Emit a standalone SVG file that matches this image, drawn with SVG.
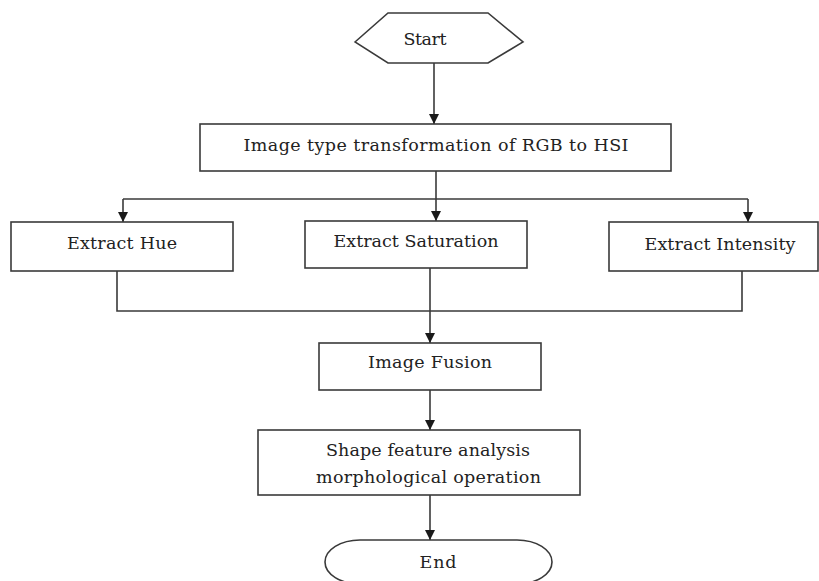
<svg xmlns="http://www.w3.org/2000/svg" width="819" height="581" viewBox="0 0 819 581">
<style>
.shape{fill:#fff;stroke:#3a3a3a;stroke-width:1.6}
.lbl{font-family:"DejaVu Serif","Liberation Serif",serif;font-size:17.5px;fill:#222;text-anchor:middle}
.con{fill:none;stroke:#3a3a3a;stroke-width:1.6}
</style>
<defs>
<marker id="arr" viewBox="0 0 10 10" refX="10" refY="5" markerWidth="10" markerHeight="10" markerUnits="userSpaceOnUse" orient="auto">
<path d="M0,0 L10,5 L0,10 Z" fill="#1a1a1a"/>
</marker>
</defs>
<rect width="819" height="581" fill="#fff"/>
<g id="connectors">
<line class="con" x1="434" y1="63" x2="434" y2="124" marker-end="url(#arr)"/>
<line class="con" x1="436" y1="171" x2="436" y2="199"/>
<line class="con" x1="123" y1="199" x2="748" y2="199"/>
<line class="con" x1="123" y1="199" x2="123" y2="222" marker-end="url(#arr)"/>
<line class="con" x1="436" y1="199" x2="436" y2="221" marker-end="url(#arr)"/>
<line class="con" x1="748" y1="199" x2="748" y2="222" marker-end="url(#arr)"/>
<polyline class="con" points="117,271 117,311 742,311 742,271"/>
<line class="con" x1="430" y1="268" x2="430" y2="343" marker-end="url(#arr)"/>
<line class="con" x1="430" y1="390" x2="430" y2="430" marker-end="url(#arr)"/>
<line class="con" x1="430" y1="495" x2="430" y2="540" marker-end="url(#arr)"/>
</g>
<g id="start">
<polygon class="shape" points="355,42 388,13 488,13 523,42 488,63 388,63"/>
<text class="lbl" x="425" y="45" textLength="43">Start</text>
</g>
<g id="rgb2hsi">
<rect class="shape" x="200" y="124" width="471" height="47"/>
<text class="lbl" x="436" y="151" textLength="385">Image type transformation of RGB to HSI</text>
</g>
<g id="hue">
<rect class="shape" x="11" y="222" width="222" height="49"/>
<text class="lbl" x="122" y="249" textLength="110">Extract Hue</text>
</g>
<g id="saturation">
<rect class="shape" x="305" y="221" width="222" height="47"/>
<text class="lbl" x="416" y="247" textLength="165">Extract Saturation</text>
</g>
<g id="intensity">
<rect class="shape" x="609" y="222" width="209" height="49"/>
<text class="lbl" x="720" y="250" textLength="151">Extract Intensity</text>
</g>
<g id="fusion">
<rect class="shape" x="319" y="343" width="222" height="47"/>
<text class="lbl" x="430" y="368" textLength="124">Image Fusion</text>
</g>
<g id="shape-analysis">
<rect class="shape" x="258" y="430" width="322" height="65"/>
<text class="lbl" x="428" y="456" textLength="204">Shape feature analysis</text>
<text class="lbl" x="428.5" y="483" textLength="225">morphological operation</text>
</g>
<g id="end">
<rect class="shape" x="325" y="540" width="227" height="44" rx="35" ry="22"/>
<text class="lbl" x="438" y="568" textLength="37">End</text>
</g>
</svg>
